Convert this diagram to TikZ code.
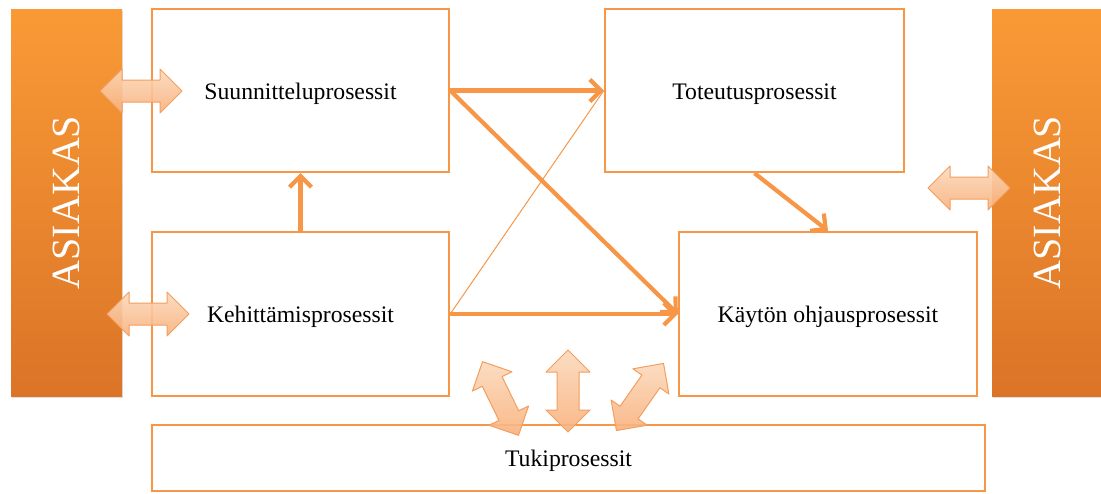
\documentclass[tikz,border=0pt]{standalone}
\usepackage{fontspec}
\setmainfont{Liberation Serif}
\usetikzlibrary{arrows.meta,shadows}
\definecolor{procline}{HTML}{F79646}
\definecolor{barTop}{HTML}{F99A36}
\definecolor{barBot}{HTML}{DB7427}
\definecolor{arrDeep}{HTML}{F8B17C}
\definecolor{arrPale}{HTML}{FCD9BC}
\definecolor{arrEdge}{HTML}{F49E5E}
\tikzset{
  procbox/.style={draw=procline, line width=2.4pt, fill=white, inner sep=0pt,
    text height=22pt, text depth=5pt,
    font=\fontsize{23.7}{28}\selectfont},
  asiakasbar/.style={top color=barTop, bottom color=barBot, draw=none,
    inner sep=0pt, minimum width=111pt, minimum height=387pt,
    drop shadow={opacity=0.25, shadow xshift=1pt, shadow yshift=-1.5pt}},
  asiakastext/.style={rotate=90, text=white, font=\fontsize{40}{44}\selectfont},
  flow/.style={draw=procline, line width=4.2pt,
    -{Straight Barb[length=11pt, width=22pt]}},
  thinflow/.style={draw=procline, line width=1pt},
  blockarr/.style={top color=arrPale, bottom color=arrDeep, draw=arrEdge,
    fill opacity=0.9, line width=1pt, line join=round},
  pics/dblarrow/.style={code={
    \path[blockarr] (-41,0) -- (-19,-22) -- (-19,-11) -- (19,-11) -- (19,-22)
      -- (41,0) -- (19,22) -- (19,11) -- (-19,11) -- (-19,22) -- cycle;}}
}
\begin{document}
\begin{tikzpicture}[x=1pt,y=-1pt]
\useasboundingbox (0,0) rectangle (1101,493);

% customer bars
\node[asiakasbar] (asL) at (66.5,202.5) {};
\node[asiakastext] (asLt) at (asL.center) {ASIAKAS};
\node[asiakasbar] (asR) at (1047.5,202.5) {};
\node[asiakastext] (asRt) at (1047,202.5) {ASIAKAS};

% process boxes
\node[procbox, minimum width=297pt, minimum height=163pt] (suun) at (300.5,90.5) {Suunnitteluprosessit};
\node[procbox, minimum width=299pt, minimum height=163pt] (tot) at (754.5,90.5) {Toteutusprosessit};
\node[procbox, minimum width=297pt, minimum height=164pt] (keh) at (300.5,314) {Kehittämisprosessit};
\node[procbox, minimum width=298pt, minimum height=164pt] (kay) at (828,314) {Käytön ohjausprosessit};
\node[procbox, minimum width=833pt, minimum height=66pt] (tuki) at (568.5,458) {Tukiprosessit};

% flows between processes
\draw[thinflow] (keh.east) -- (tot.west);
\draw[flow] (suun.east) -- (tot.west);
\draw[flow] (suun.east) -- (kay.west);
\draw[flow] (keh.east) -- (kay.west);
\draw[flow] (keh.north) -- (suun.south);
\draw[flow] (tot.south) -- (kay.north);

% two-way block arrows
\pic (dL1) at (141,91) {dblarrow};
\pic (dL2) at (148,314) {dblarrow};
\pic (dR) at (969,188) {dblarrow};
\pic[rotate=-64] (dT1) at (500.5,398.5) {dblarrow};
\pic[rotate=90] (dT2) at (568,391) {dblarrow};
\pic[rotate=55] (dT3) at (640,397) {dblarrow};
\end{tikzpicture}
\end{document}
